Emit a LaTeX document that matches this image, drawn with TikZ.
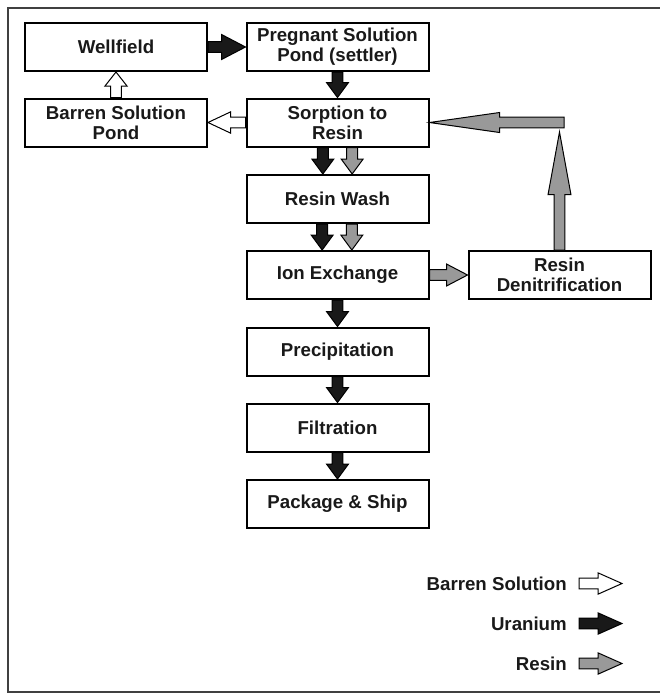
\documentclass[tikz,border=0pt]{standalone}
\usepackage{fontspec}
\setmainfont{Liberation Sans}
\usepackage{tikz}
\usetikzlibrary{calc}

\newcommand{\shafthalf}{4.1pt}
% block arrow: #1 style, #2 tail, #3 tip, #4 head length, #5 half head width
\newcommand{\blockarrow}[5]{%
  \coordinate (at) at (#2);
  \coordinate (ah) at (#3);
  \coordinate (ab) at ($(ah)!#4!(at)$);
  \path [#1] ($(at)!\shafthalf!90:(ah)$) -- ($(ab)!\shafthalf!90:(ah)$) -- ($(ab)!#5!90:(ah)$) -- (ah) -- ($(ab)!#5!-90:(ah)$) -- ($(ab)!\shafthalf!-90:(ah)$) -- ($(at)!\shafthalf!-90:(ah)$) -- cycle ;}

\tikzset{
  stage/.style={draw, line width=1.5pt, minimum width=136.5pt, minimum height=36pt, inner sep=0pt, align=center, text=black!90, font=\bfseries\fontsize{14}{15}\selectfont},
  keytext/.style={anchor=east, inner sep=0pt, text=black!90, font=\bfseries\fontsize{14}{15}\selectfont},
  uranium/.style={fill=black!90, draw=black, line width=0.75pt},
  resin/.style={fill=black!40, draw=black, line width=0.75pt},
  barren/.style={fill=white, draw=black, line width=0.75pt}
}

\begin{document}
\begin{tikzpicture}[x=0.75pt,y=0.75pt,yscale=-1,xscale=1]
  \useasboundingbox (0,0) rectangle (660,697);

  %Shape: Rectangle [frame]
  \draw [black!75, line width=1.5] (8,7.5) rectangle (675,692) ;

  % Process stages
  \node [stage] (well) at (116,47) {Wellfield};
  \node [stage] (preg) at (337.5,47) {Pregnant Solution\\Pond (settler)};
  \node [stage] (barren) at (116,122.5) {Barren Solution\\Pond};
  \node [stage] (sorp) at (337.5,122.5) {Sorption to\\Resin};
  \node [stage] (wash) at (337.5,199) {Resin Wash};
  \node [stage] (ionx) at (337.5,275) {Ion Exchange};
  \node [stage] (denit) at (559.5,275) {Resin\\Denitrification};
  \node [stage] (precip) at (337.5,351.5) {Precipitation};
  \node [stage] (filt) at (337.5,427.5) {Filtration};
  \node [stage] (pack) at (337.5,504) {Package \& Ship};

  %Shape: Block Arrows [uranium]
  \blockarrow{uranium}{well.east}{preg.west}{18pt}{9.4pt}
  \blockarrow{uranium}{preg.south}{sorp.north}{11.25pt}{8.25pt}
  \blockarrow{uranium}{[xshift=-11pt]sorp.south}{[xshift=-11pt]wash.north}{11.25pt}{8.25pt}
  \blockarrow{uranium}{[xshift=-11.5pt]wash.south}{[xshift=-11.5pt]ionx.north}{11.25pt}{8.25pt}
  \blockarrow{uranium}{ionx.south}{precip.north}{11.25pt}{8.25pt}
  \blockarrow{uranium}{precip.south}{filt.north}{11.25pt}{8.25pt}
  \blockarrow{uranium}{filt.south}{pack.north}{11.25pt}{8.25pt}

  %Shape: Block Arrows [barren solution]
  \blockarrow{barren}{barren.north}{well.south}{10.5pt}{8.25pt}
  \blockarrow{barren}{sorp.west}{barren.east}{17pt}{8pt}

  %Shape: Block Arrows [resin]
  \coordinate (turn) at (564,122.5);
  \coordinate (rise) at (559.5,132);
  \blockarrow{resin}{[xshift=11pt]sorp.south}{[xshift=11pt]wash.north}{11.25pt}{8.25pt}
  \blockarrow{resin}{[xshift=10.75pt]wash.south}{[xshift=10.75pt]ionx.north}{11.25pt}{8.25pt}
  \blockarrow{resin}{ionx.east}{denit.west}{15.75pt}{8.25pt}
  \blockarrow{resin}{denit.north}{rise}{47pt}{8.6pt}
  \blockarrow{resin}{turn}{sorp.east}{52.5pt}{7.5pt}

  % Legend
  \node [keytext] (keyb) at (567,583.5) {Barren Solution};
  \node [keytext] (keyu) at (567,623.5) {Uranium};
  \node [keytext] (keyr) at (567,663.5) {Resin};
  \blockarrow{barren}{[xshift=9pt]keyb.east}{[xshift=41.25pt]keyb.east}{18pt}{8pt}
  \blockarrow{uranium}{[xshift=9pt]keyu.east}{[xshift=41.25pt]keyu.east}{18pt}{8pt}
  \blockarrow{resin}{[xshift=9pt]keyr.east}{[xshift=41.25pt]keyr.east}{18pt}{8pt}
\end{tikzpicture}
\end{document}
